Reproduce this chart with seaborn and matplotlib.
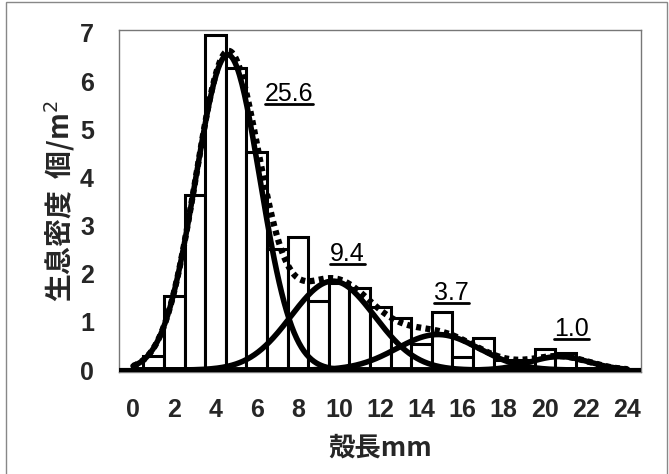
import numpy as np
import pandas as pd
import matplotlib
matplotlib.use("Agg")
import matplotlib.pyplot as plt
import seaborn as sns
from matplotlib.lines import Line2D
from matplotlib.patches import Rectangle

# ---- data ----
shell_length = [1, 2, 3, 4, 5, 6, 7, 8, 9, 10, 11,
                12, 13, 14, 15, 16, 17, 18, 19, 20, 21]
density = [0.30, 1.54, 3.64, 6.95, 6.28, 4.52, 2.52, 2.76, 1.43, 1.80, 1.70,
           1.31, 1.08, 0.55, 1.21, 0.28, 0.66, 0.20, 0.20, 0.43, 0.35]

# normal-mixture components (count labels shown on the chart)
comp_counts = [25.6, 9.4, 3.7, 1.0]
comp_means = [4.6, 9.7, 14.8, 20.7]
comp_sds = [1.56, 2.03, 2.0, 1.42]
comp_labels = ["25.6", "9.4", "3.7", "1.0"]

x_ticks = list(range(0, 25, 2))
y_ticks = list(range(0, 8))

# ---- style ----
sns.set_theme(style="white")
plt.rcParams['font.family'] = ['Liberation Sans', 'Noto Sans CJK JP', 'DejaVu Sans']

fig = plt.figure(figsize=(6.69, 4.74), dpi=100)
ax = fig.add_axes([119 / 669, 1 - 372 / 474, (641 - 119) / 669, (372 - 30) / 474])

# outer border of the figure
fig.patches.append(Rectangle((6 / 669, -0.05), (667 - 6) / 669, 1.05 - 2 / 474,
                             transform=fig.transFigure, fill=False,
                             edgecolor="#888888", linewidth=1.0, zorder=0))

# histogram bars
sns.barplot(x=shell_length, y=density, native_scale=True, width=1.0,
            color="white", edgecolor="black", linewidth=2.2, ax=ax,
            saturation=1, zorder=2)

# fitted curves
xg = np.linspace(0, 24, 400)
total = np.zeros_like(xg)
for n, m, s in zip(comp_counts, comp_means, comp_sds):
    yv = n / (s * np.sqrt(2 * np.pi)) * np.exp(-0.5 * ((xg - m) / s) ** 2)
    total += yv
    sns.lineplot(x=xg, y=yv, color="black", linewidth=4.0, ax=ax, zorder=4)
sns.lineplot(x=xg, y=total, color="black", linewidth=4.5, ax=ax, zorder=3,
             linestyle=(0, (0.8, 0.7)))

ax.set_xlim(-0.68, 24.66)
ax.set_ylim(-0.04, 7.06)
ax.set_xticks(x_ticks)
ax.set_yticks(y_ticks)
ax.tick_params(axis="both", direction="in", length=3, width=0.8, color="#888888",
               labelsize=18, pad=19)
ax.tick_params(axis="y", pad=18)
for lab in ax.get_xticklabels() + ax.get_yticklabels():
    lab.set_fontweight("bold")
for sp in ax.spines.values():
    sp.set_color("#777777")
    sp.set_linewidth(1.0)
ax.axhline(0, color="black", linewidth=3, zorder=5)

ax.set_xlabel("殻長mm", fontsize=19, fontweight="bold",
              family=['Noto Sans CJK JP', 'DejaVu Sans'], labelpad=9)
ax.set_ylabel("生息密度  個/m$^2$", fontsize=20, fontweight="bold",
              family=['Noto Sans CJK JP', 'DejaVu Sans'], labelpad=2)

# component labels (underlined)
label_pos = [(7.57, 5.73), (10.4, 2.41), (15.47, 1.6), (21.3, 0.85)]
texts = []
for t, (lx, ly) in zip(comp_labels, label_pos):
    texts.append(ax.text(lx, ly, t, fontsize=18, ha="center", va="center",
                         color="black", zorder=6))

fig.canvas.draw()
inv = ax.transAxes.inverted()
for t in texts:
    bb = t.get_window_extent()
    (x0, y0), (x1, y1) = inv.transform([(bb.x0, bb.y0 + 2), (bb.x1, bb.y1)])
    ax.add_line(Line2D([x0, x1], [y0, y0], transform=ax.transAxes,
                       color="black", linewidth=2.0, zorder=6))

fig.savefig("out.png", dpi=100)
